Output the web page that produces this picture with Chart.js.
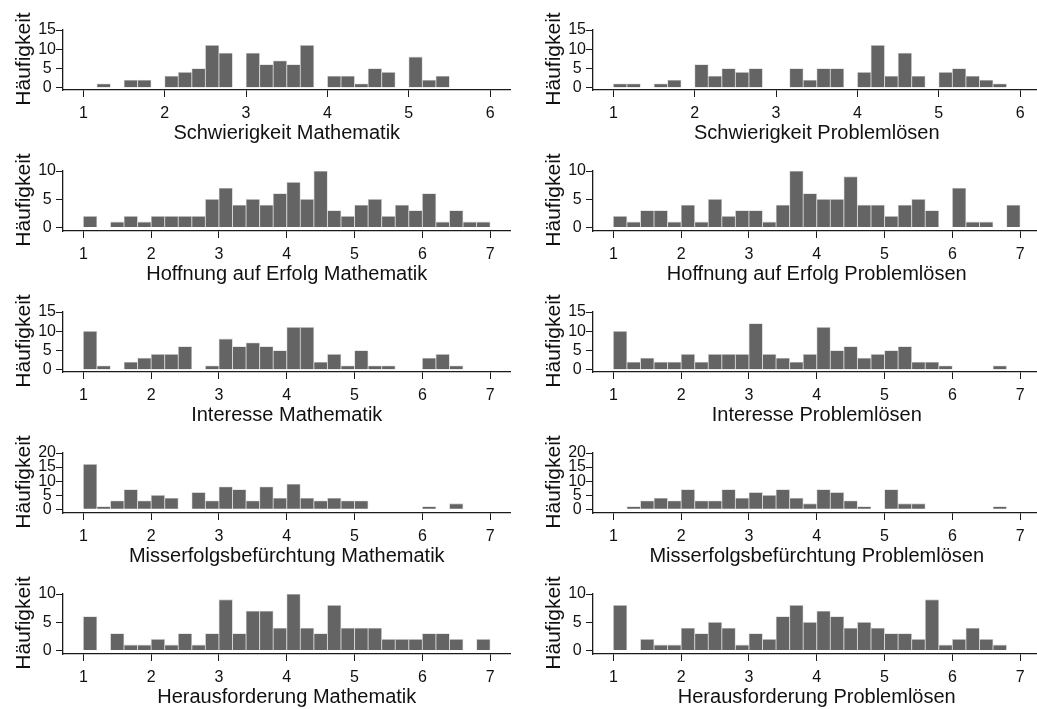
<!DOCTYPE html>
<html>
<head>
<meta charset="utf-8">
<script src="https://cdn.jsdelivr.net/npm/chart.js@4.4.0/dist/chart.umd.min.js"></script>
<style>
html, body { margin: 0; padding: 0; background: #fff; overflow: hidden; width: 1037px; height: 709px; }
.panel { position: absolute; width: 520px; height: 150px; }
</style>
</head>
<body>
<script>
// Skalen: Schwierigkeit 1-6, alle anderen 1-7, jeweils 30 Klassen
const nBins = 30;
const ticks6 = [1, 2, 3, 4, 5, 6];
const ticks7 = [1, 2, 3, 4, 5, 6, 7];
const yTicks10 = [0, 5, 10];
const yTicks15 = [0, 5, 10, 15];
const yTicks20 = [0, 5, 10, 15, 20];

// Häufigkeiten pro Klasse (von links nach rechts)
const schwierigkeitMathematik = [0,1,0,2,2,0,3,4,5,11,9,0,9,6,7,6,11,0,3,3,1,5,4,0,8,2,3,0,0,0];
const schwierigkeitProblemloesen = [1,1,0,1,2,0,6,3,5,4,5,0,0,5,2,5,5,0,4,11,3,9,3,0,4,5,3,2,1,0];
const hoffnungMathematik = [2,0,1,2,1,2,2,2,2,5,7,4,5,4,6,8,5,10,3,2,4,5,2,4,3,6,1,3,1,1];
const hoffnungProblemloesen = [2,1,3,3,1,4,1,5,2,3,3,1,4,10,6,5,5,9,4,4,2,4,5,3,0,7,1,1,0,4];
const interesseMathematik = [10,1,0,2,3,4,4,6,0,1,8,6,7,6,5,11,11,2,4,1,5,1,1,0,0,3,4,1,0,0];
const interesseProblemloesen = [10,2,3,2,2,4,2,4,4,4,12,4,3,2,4,11,5,6,3,4,5,6,2,2,1,0,0,0,1,0];
const misserfolgMathematik = [16,1,3,7,3,5,4,0,6,3,8,7,3,8,4,9,4,3,4,3,3,0,0,0,0,1,0,2,0,0];
const misserfolgProblemloesen = [0,1,3,4,3,7,3,3,7,4,6,5,7,4,2,7,6,3,1,0,7,2,2,0,0,0,0,0,1,0];
const herausforderungMathematik = [6,0,3,1,1,2,1,3,1,3,9,3,7,7,4,10,4,3,8,4,4,4,2,2,2,3,3,2,0,2];
const herausforderungProblemloesen = [8,0,2,1,1,4,3,5,4,1,3,2,6,8,5,7,6,4,5,4,3,3,2,9,1,2,4,2,1,0];

const FONT = '"Liberation Sans", Arial, Helvetica, sans-serif';
const INK = '#111';

function binCenters(lo, hi, n) {
    const w = (hi - lo) / n;
    const out = [];
    for (let i = 0; i < n; i++) out.push(lo + (i + 0.5) * w);
    return out;
}

const panels = [
    { title: 'Schwierigkeit Mathematik', values: schwierigkeitMathematik, xt: ticks6, yt: yTicks15, row: 0, col: 0 },
    { title: 'Schwierigkeit Problemlösen', values: schwierigkeitProblemloesen, xt: ticks6, yt: yTicks15, row: 0, col: 1 },
    { title: 'Hoffnung auf Erfolg Mathematik', values: hoffnungMathematik, xt: ticks7, yt: yTicks10, row: 1, col: 0 },
    { title: 'Hoffnung auf Erfolg Problemlösen', values: hoffnungProblemloesen, xt: ticks7, yt: yTicks10, row: 1, col: 1 },
    { title: 'Interesse Mathematik', values: interesseMathematik, xt: ticks7, yt: yTicks15, row: 2, col: 0 },
    { title: 'Interesse Problemlösen', values: interesseProblemloesen, xt: ticks7, yt: yTicks15, row: 2, col: 1 },
    { title: 'Misserfolgsbefürchtung Mathematik', values: misserfolgMathematik, xt: ticks7, yt: yTicks20, row: 3, col: 0 },
    { title: 'Misserfolgsbefürchtung Problemlösen', values: misserfolgProblemloesen, xt: ticks7, yt: yTicks20, row: 3, col: 1 },
    { title: 'Herausforderung Mathematik', values: herausforderungMathematik, xt: ticks7, yt: yTicks10, row: 4, col: 0 },
    { title: 'Herausforderung Problemlösen', values: herausforderungProblemloesen, xt: ticks7, yt: yTicks10, row: 4, col: 1 }
];

// senkrechte Achsenbeschriftung, darf die Ticklabels überlappen
const yLabel = {
    id: 'yLabel',
    afterDraw(chart) {
        const { ctx, chartArea } = chart;
        ctx.save();
        ctx.translate(24.5, (chartArea.top + chartArea.bottom) / 2 - 1);
        ctx.rotate(-Math.PI / 2);
        ctx.font = '21px ' + FONT;
        ctx.fillStyle = INK;
        ctx.textAlign = 'center';
        ctx.textBaseline = 'middle';
        ctx.fillText('Häufigkeit', 0, 0);
        ctx.restore();
    }
};

panels.forEach(p => {
    const div = document.createElement('div');
    div.className = 'panel';
    div.style.left = (p.col * 529.5) + 'px';
    div.style.top = (p.row * 141) + 'px';
    const canvas = document.createElement('canvas');
    canvas.width = 520;
    canvas.height = 150;
    div.appendChild(canvas);
    document.body.appendChild(div);

    const lo = p.xt[0], hi = p.xt[p.xt.length - 1];
    const pad = (hi - lo) * 0.05;
    const centers = binCenters(lo, hi, nBins);
    const yMax = p.yt[p.yt.length - 1];
    const yMin = yMax === 20 ? -1.3 : -0.6;

    new Chart(canvas, {
        type: 'bar',
        data: {
            datasets: [{
                data: p.values.map((v, i) => ({ x: centers[i], y: v })),
                backgroundColor: '#646464',
                borderColor: '#d4d4d4',
                borderWidth: 0.8,
                barPercentage: 1,
                categoryPercentage: 1
            }]
        },
        options: {
            responsive: false,
            animation: false,
            layout: { padding: { top: 30, bottom: 4.9, left: 0, right: 9.5 } },
            plugins: { legend: { display: false }, tooltip: { enabled: false } },
            scales: {
                x: {
                    type: 'linear',
                    offset: false,
                    min: lo - pad,
                    max: hi + pad,
                    afterBuildTicks: s => { s.ticks = p.xt.map(v => ({ value: v })); },
                    afterFit: s => { s.height = 55.1; },
                    grid: { drawOnChartArea: false, drawTicks: true, tickLength: 7, tickColor: '#1a1a1a', tickWidth: 1, offset: false },
                    border: { display: true, color: '#1a1a1a', width: 1.3 },
                    ticks: { font: { family: FONT, size: 16 }, color: INK, padding: 6.9, maxRotation: 0, autoSkip: false },
                    title: { display: true, text: p.title, font: { family: FONT, size: 20 }, color: INK, padding: { top: 0, bottom: 0 } }
                },
                y: {
                    min: yMin,
                    max: yMax,
                    afterBuildTicks: s => { s.ticks = p.yt.map(v => ({ value: v })); },
                    afterFit: s => { s.width = 63; },
                    grid: { drawOnChartArea: false, drawTicks: true, tickLength: 7, tickColor: '#1a1a1a', tickWidth: 1 },
                    border: { display: true, color: '#1a1a1a', width: 1.3 },
                    ticks: { font: { family: FONT, size: 16 }, color: INK, padding: 0, crossAlign: 'center', autoSkip: false }
                }
            }
        },
        plugins: [yLabel]
    });
});
</script>
</body>
</html>
